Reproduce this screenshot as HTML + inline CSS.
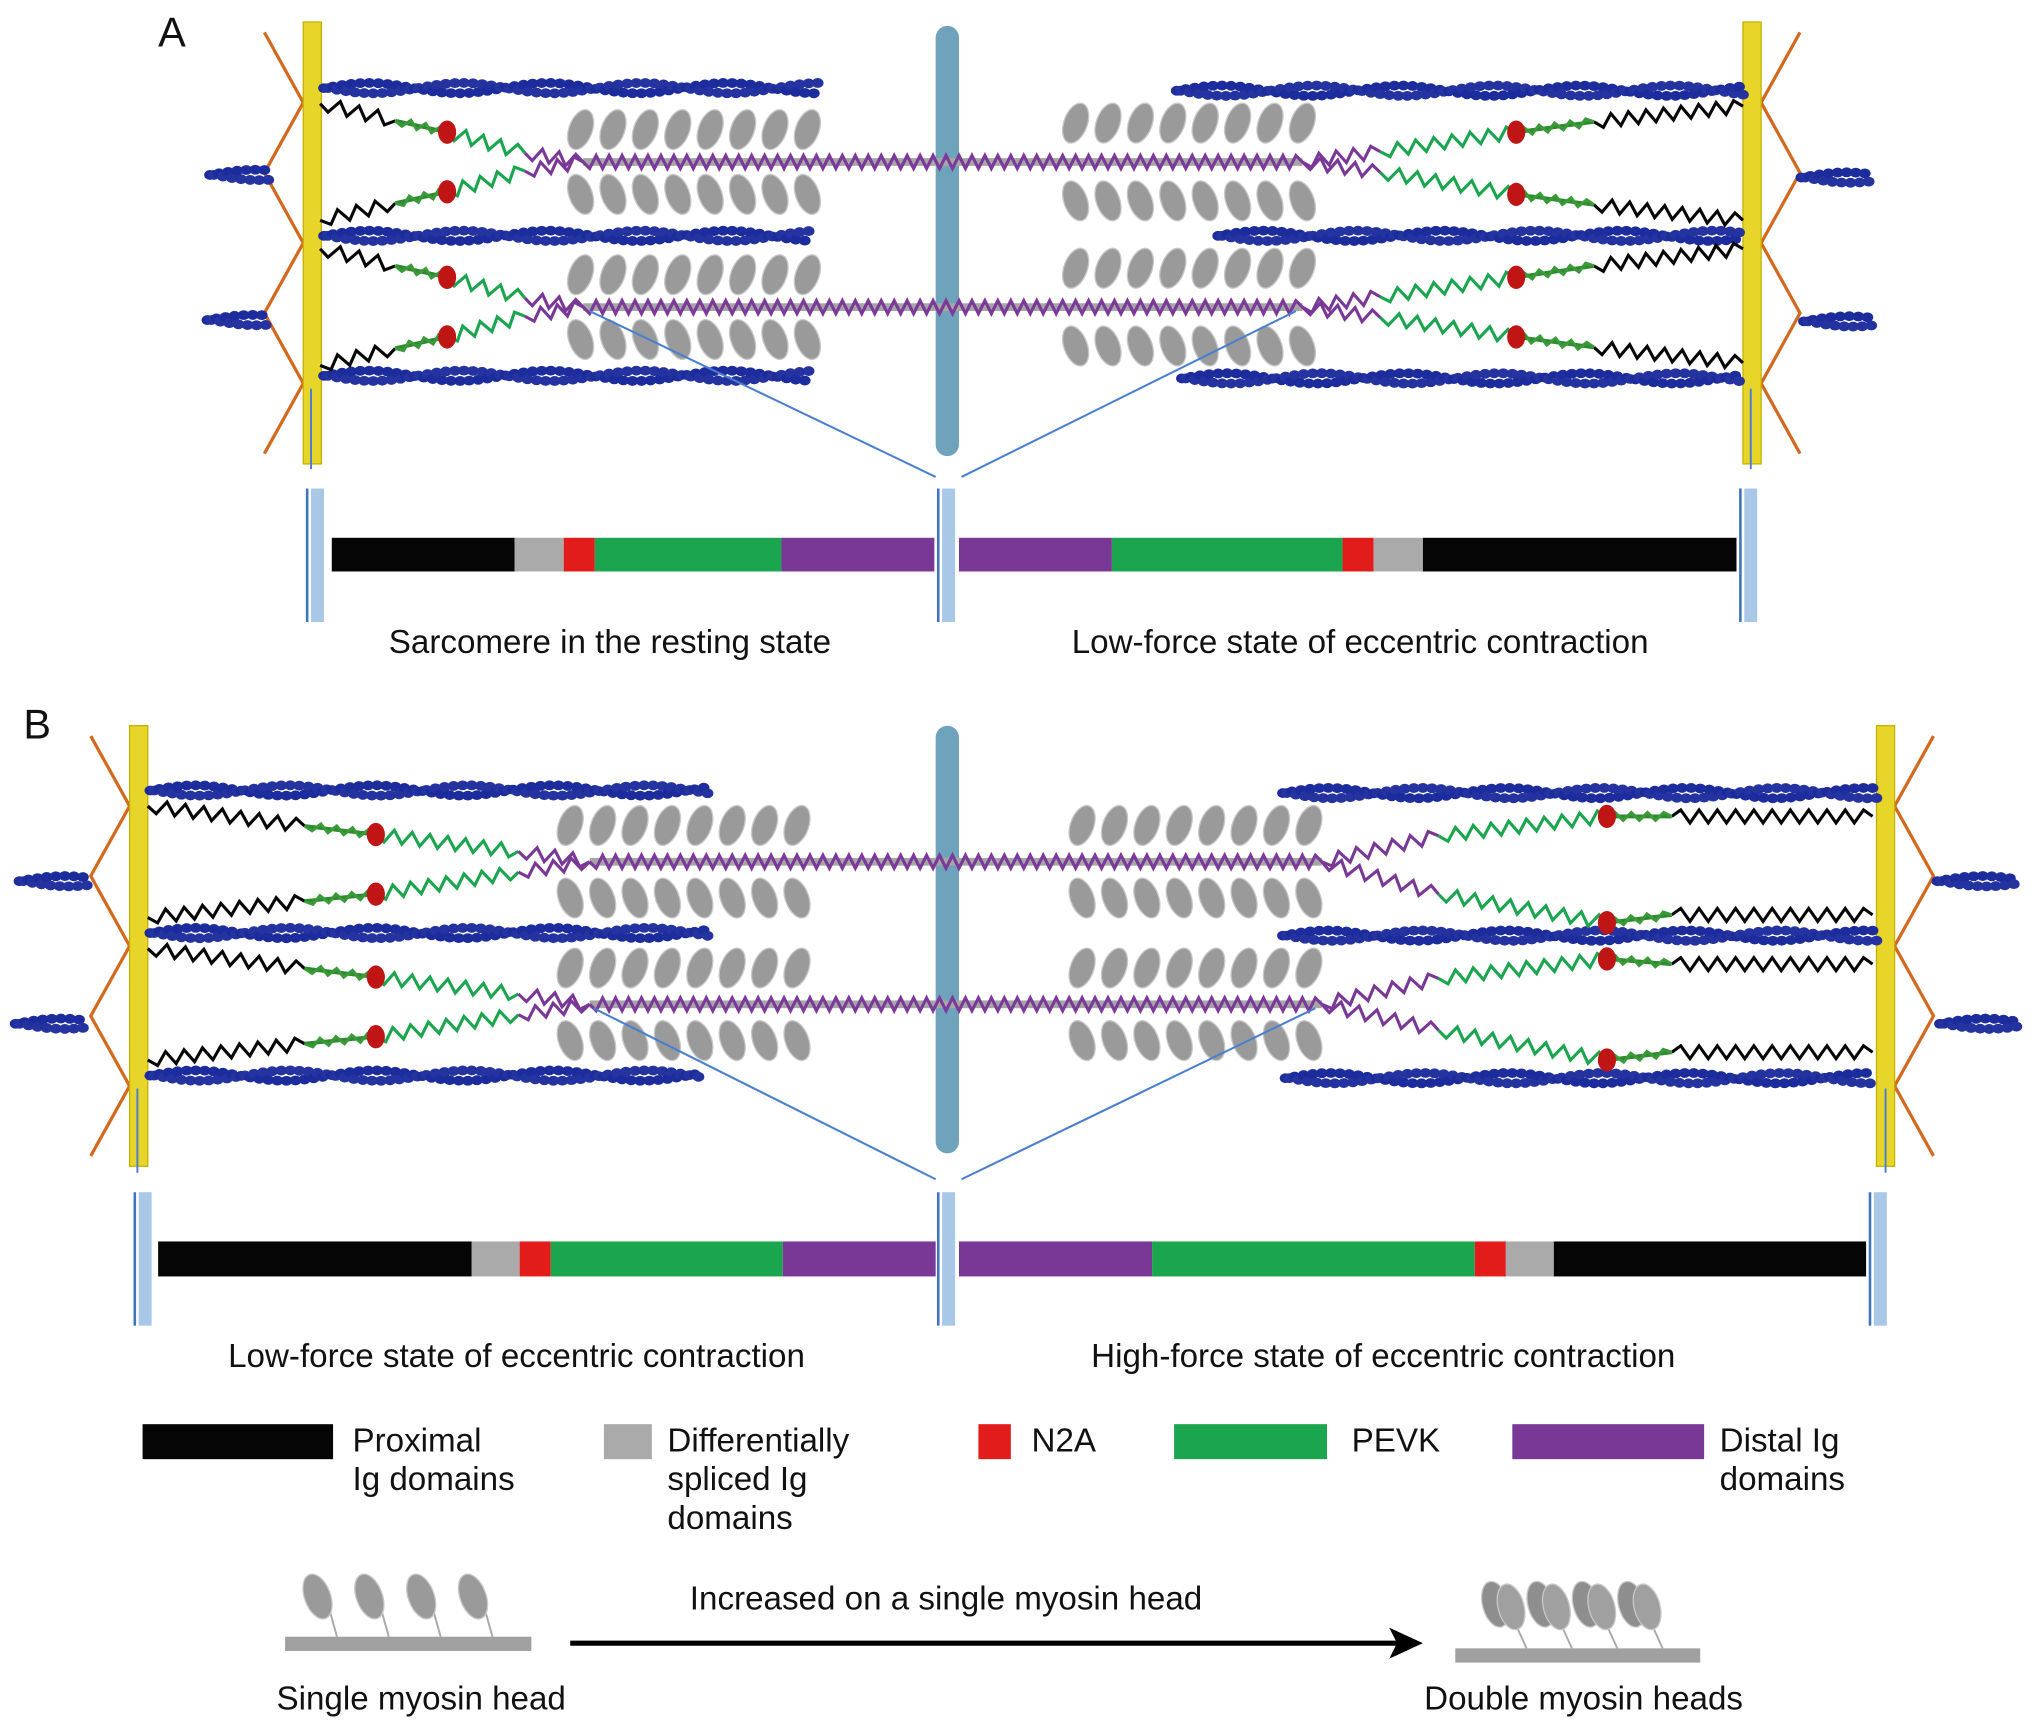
<!DOCTYPE html>
<html><head><meta charset="utf-8"><style>
html,body{margin:0;padding:0;background:#fff;}
svg{display:block;}
text{font-family:"Liberation Sans",sans-serif;fill:#111;}
</style></head><body>
<svg id="s" width="2032" height="1730" viewBox="0 0 1568 1335" xmlns="http://www.w3.org/2000/svg">
<rect width="1568" height="1335" fill="#fff"/>
<g id="g"></g>
<text x="122" y="36" font-size="32">A</text>
<text x="18" y="570" font-size="32">B</text>
<g font-size="25.6">
<text x="300" y="504">Sarcomere in the resting state</text>
<text x="827" y="504">Low-force state of eccentric contraction</text>
<text x="176" y="1055">Low-force state of eccentric contraction</text>
<text x="842" y="1055">High-force state of eccentric contraction</text>
<text x="272" y="1120">Proximal</text><text x="272" y="1150">Ig domains</text>
<text x="515" y="1120">Differentially</text><text x="515" y="1150">spliced Ig</text><text x="515" y="1180">domains</text>
<text x="796" y="1120">N2A</text>
<text x="1043" y="1120">PEVK</text>
<text x="1327" y="1120">Distal Ig</text><text x="1327" y="1150">domains</text>
<text x="730" y="1242" text-anchor="middle">Increased on a single myosin head</text>
<text x="325" y="1319" text-anchor="middle">Single myosin head</text>
<text x="1222" y="1319" text-anchor="middle">Double myosin heads</text>
</g>
</svg>
<script>
var g=document.getElementById('g'),h='';
function R(x,y,w,hh,c,ex){h+='<rect x="'+x+'" y="'+y+'" width="'+w+'" height="'+hh+'" fill="'+c+'" '+(ex||'')+'/>';}
function L(x1,y1,x2,y2,c,w){h+='<line x1="'+x1+'" y1="'+y1+'" x2="'+x2+'" y2="'+y2+'" stroke="'+c+'" stroke-width="'+w+'"/>';}
function beads(x1,x2,y){for(var x=x1;x<=x2;x+=7){var a=Math.sin((x-x1)/22)*4;
h+='<ellipse cx="'+x+'" cy="'+(y-a)+'" rx="4.5" ry="3.8" fill="#1d2c9c"/><ellipse cx="'+(x+3)+'" cy="'+(y+a)+'" rx="4.5" ry="3.8" fill="#24339f"/>';}}
function zig(x1,y1,x2,y2,c,step,amp){var dx=x2-x1,dy=y2-y1,len=Math.hypot(dx,dy),n=Math.max(2,Math.round(len/step)),nx=-dy/len,ny=dx/len,p=[];
for(var i=0;i<=n;i++){var t=i/n,s=(i==0||i==n)?0:(i%2?1:-1)*amp;p.push((x1+dx*t+nx*s).toFixed(1)+','+(y1+dy*t+ny*s).toFixed(1));}
h+='<polyline points="'+p.join(' ')+'" fill="none" stroke="'+c+'" stroke-width="2.4"/>';}
function heads(x1,x2,y,up,ang){for(var x=x1;x<=x2;x+=25){h+='<line x1="'+x+'" y1="'+y+'" x2="'+x+'" y2="'+(y+(up?14:-14))+'" stroke="#aaa" stroke-width="1.5"/><ellipse cx="'+x+'" cy="'+y+'" rx="9" ry="16" fill="#9a9a9a" stroke="#c8c8c8" transform="rotate('+ang+' '+x+' '+y+')"/>';}}
function thick(x1,x2,y){R(x1,y-3,x2-x1,6,'#a6a6a6');zig(x1,y,x2,y,'#7b3a9a',5,5);}
function titin(pts,cols){for(var i=0;i<pts.length-1;i++){var c=cols[i];if(c=='d'){L(pts[i][0],pts[i][1],pts[i+1][0],pts[i+1][1],'#2d8a2d',3);zig(pts[i][0],pts[i][1],pts[i+1][0],pts[i+1][1],'#3a9a3a',6,3);}else zig(pts[i][0],pts[i][1],pts[i+1][0],pts[i+1][1],c,7,5);}}
function dot(x,y){h+='<ellipse cx="'+x+'" cy="'+y+'" rx="7" ry="9" fill="#c01515"/>';}
function zline(x,y1,y2,sgn){var xo=x+(sgn<0?0:14),xe=xo+sgn*30,s=(y2-y1)/6;var p=[];for(var i=0;i<=6;i++)p.push((i%2?xo:xe)+','+(y1+i*s));
h+='<polyline points="'+p.join(' ')+'" fill="none" stroke="#d2691e" stroke-width="2.5"/>';R(x,y1-8,14,y2-y1+16,'#e8d52a','stroke="#c8b000"');}
function mline(x,y1,y2){h+='<rect x="'+x+'" y="'+y1+'" width="18" height="'+(y2-y1)+'" rx="9" fill="#6ea3bb"/>';}
function bar(segs,y,hh){segs.forEach(function(s){R(s[0],y,s[1]-s[0],hh,s[2]);});}
function sbar(x,y1,y2){R(x,y1,10,y2-y1,'#a9c8e8');L(x-3,y1,x-3,y2,'#3f74c0',2);}
var K='#050505',G='#1aa54e',P='#7a3896',Gr='#aaaaaa',Rd='#e21b1b';
zline(234,25,350,-1);zline(1345,25,350,1);
beads(162,205,135);beads(160,205,247);beads(1390,1440,137);beads(1392,1445,248);
mline(722,20,352);
[125,237].forEach(function(y){heads(448,630,y-25,true,20);heads(448,630,y+25,false,-20);heads(830,1015,y-30,true,20);heads(830,1015,y+30,false,-20);thick(450,1005,y);});
beads(250,630,68);beads(250,625,182);beads(250,625,290);
beads(908,1345,70);beads(940,1345,182);beads(912,1345,292);
[[80,102,118,125],[170,148,132,125],[192,214,230,237],[282,260,244,237]].forEach(function(a){
titin([[247,a[0]],[305,a[0]+(a[1]-a[0])*0.6],[345,a[1]],[405,a[2]],[450,a[3]]],[K,'d',G,P]);dot(345,a[1]);});
[[82,102,117,125],[170,150,133,125],[192,214,229,237],[280,260,245,237]].forEach(function(a){
titin([[1345,a[0]],[1230,a[0]+(a[1]-a[0])*0.6],[1170,a[1]],[1065,a[2]],[1005,a[3]]],[K,'d',G,P]);dot(1170,a[1]);});
L(455,240,722,368,'#4a7fd0',1.6);L(1000,240,742,368,'#4a7fd0',1.6);
L(240,300,240,362,'#4a7fd0',1.5);L(1351,300,1351,362,'#4a7fd0',1.5);
sbar(240,377,480);sbar(727,377,480);sbar(1346,377,480);
bar([[256,397,K],[397,435,Gr],[435,459,Rd],[459,603,G],[603,721,P],[740,858,P],[858,1036,G],[1036,1060,Rd],[1060,1098,Gr],[1098,1340,K]],415,26);
zline(100,568,892,-1);zline(1448,568,892,1);
beads(15,68,680);beads(12,65,790);beads(1495,1552,680);beads(1497,1555,790);
mline(722,560,890);
[665,775].forEach(function(y){heads(440,630,y-28,true,20);heads(440,630,y+28,false,-20);heads(835,1030,y-28,true,20);heads(835,1030,y+28,false,-20);thick(455,1020,y);});
beads(116,545,610);beads(116,545,720);beads(116,540,830);
beads(990,1445,612);beads(990,1445,722);beads(992,1445,832);
[[622,644,657,665],[708,690,673,665],[732,754,767,775],[818,800,783,775]].forEach(function(a){
titin([[114,a[0]],[235,a[0]+(a[1]-a[0])*0.7],[290,a[1]],[400,a[2]],[455,a[3]]],[K,'d',G,P]);dot(290,a[1]);});
[[630,630,645,665],[706,712,690,665],[744,740,755,775],[812,818,795,775]].forEach(function(a){
titin([[1445,a[0]],[1290,a[0]],[1240,a[1]],[1110,a[2]],[1020,a[3]]],[K,'d',G,P]);dot(1240,a[1]);});
L(458,778,722,910,'#4a7fd0',1.6);L(1015,778,742,910,'#4a7fd0',1.6);
L(106,840,106,905,'#4a7fd0',1.5);L(1455,840,1455,905,'#4a7fd0',1.5);
sbar(107,920,1023);sbar(727,920,1023);sbar(1446,920,1023);
bar([[122,364,K],[364,401,Gr],[401,425,Rd],[425,604,G],[604,722,P],[740,889,P],[889,1138,G],[1138,1162,Rd],[1162,1199,Gr],[1199,1440,K]],958,27);
R(110,1099,147,27,K);R(466,1099,37,27,Gr);R(755,1099,25,27,Rd);R(906,1099,118,27,G);R(1167,1099,148,27,P);
R(220,1263,190,11,'#a0a0a0');[245,285,325,365].forEach(function(x){L(x+8,1238,x+15,1263,'#aaa',1.5);h+='<ellipse cx="'+x+'" cy="'+1232+'" rx="10" ry="18" fill="#9a9a9a" stroke="#c8c8c8" transform="rotate(-20 '+x+' 1232)"/>';});
R(1123,1272,189,11,'#a0a0a0');[1160,1195,1230,1265].forEach(function(x){L(x+8,1250,x+18,1272,'#aaa',1.5);h+='<ellipse cx="'+(x-6)+'" cy="1238" rx="10" ry="18" fill="#8e8e8e" stroke="#c8c8c8" transform="rotate(-15 '+(x-6)+' 1238)"/><ellipse cx="'+(x+6)+'" cy="1240" rx="10" ry="18" fill="#a0a0a0" stroke="#c8c8c8" transform="rotate(-15 '+(x+6)+' 1240)"/>';});
L(440,1268,1080,1268,'#000',4);h+='<polygon points="1072,1256 1098,1268 1072,1280 1078,1268" fill="#000"/>';
g.innerHTML=h;
</script>
</body></html>
